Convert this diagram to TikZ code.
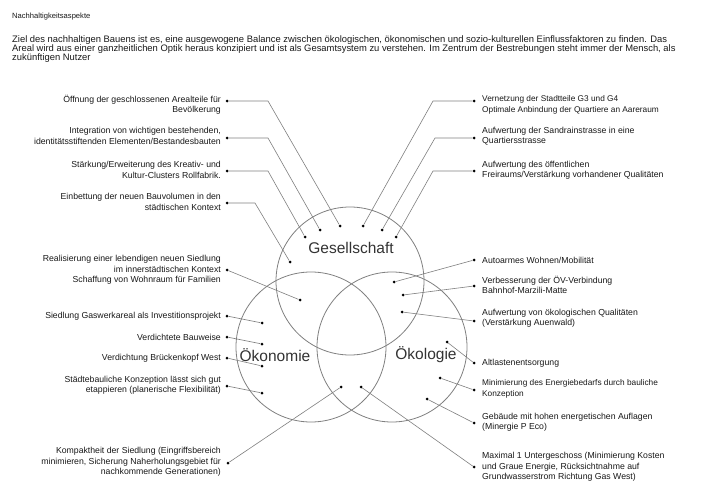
\documentclass[tikz,border=0pt]{standalone}
\usepackage{fontspec}
\setmainfont{Liberation Sans}
\begin{document}
\begin{tikzpicture}[x=1pt,y=-1pt,
  lbl/.style={inner sep=0pt,font=\fontsize{8.7}{10.5}\selectfont,text=black!90},
  lbll/.style={lbl,anchor=east,align=right},
  lblr/.style={lbl,anchor=west,align=left},
  dot/.style={circle,fill=black,inner sep=0pt,minimum size=3pt},
  conn/.style={draw=black!50,line width=0.6pt},
  ring/.style={draw=black!50,line width=0.8pt},
  big/.style={inner sep=0pt,font=\fontsize{15.5}{18}\selectfont,text=black!80}]
\path[use as bounding box] (0,0) rectangle (701,495);
\fill[white] (0,0) rectangle (701,495);

% heading and paragraph
\node[lbl,anchor=west,font=\fontsize{7.6}{8}\selectfont] (title) at (12,17) {Nachhaltigkeitsaspekte};
\node[lbl,anchor=west,align=left,font=\fontsize{9.4}{9.4}\selectfont] (para) at (12,49)
 {Ziel des nachhaltigen Bauens ist es, eine ausgewogene Balance zwischen ökologischen, ökonomischen und sozio-kulturellen Einflussfaktoren zu finden. Das\\
  Areal wird aus einer ganzheitlichen Optik heraus konzipiert und ist als Gesamtsystem zu verstehen. Im Zentrum der Bestrebungen steht immer der Mensch, als\\
  zukünftigen Nutzer};

% circles
\draw[ring] (350,281) circle[radius=74];
\draw[ring] (311,347) circle[radius=75];
\draw[ring] (392,347) circle[radius=75];
\node[big] (ges) at (351,248) {Gesellschaft};
\node[big] (oek) at (275,355) {Ökonomie};
\node[big] (okol) at (426,355) {Ökologie};

% target dots
\node[dot] (gA) at (305,237) {};
\node[dot] (gB) at (320,230) {};
\node[dot] (gC) at (340,226) {};
\node[dot] (gD) at (363,226) {};
\node[dot] (gE) at (382,230) {};
\node[dot] (gF) at (396,237) {};
\node[dot] (gG) at (290,262) {};
\node[dot] (e1) at (300,300) {};
\node[dot] (e2) at (262,323) {};
\node[dot] (e3) at (262,344) {};
\node[dot] (e4) at (262,366) {};
\node[dot] (e5) at (262,393) {};
\node[dot] (b1) at (341,387) {};
\node[dot] (b2) at (361,387) {};
\node[dot] (o1) at (394,282) {};
\node[dot] (o2) at (403,295) {};
\node[dot] (o3) at (402,312) {};
\node[dot] (o4) at (447,342) {};
\node[dot] (o5) at (440,378) {};
\node[dot] (o6) at (427,399) {};

% left labels
\node[lbll] (tl1) at (221,105) {Öffnung der geschlossenen Arealteile für\\Bevölkerung};
\node[dot] (l1) at (227,101) {};
\node[lbll] (tl2) at (221,136) {Integration von wichtigen bestehenden,\\identitätsstiftenden Elementen/Bestandesbauten};
\node[dot] (l2) at (227,138) {};
\node[lbll] (tl3) at (221,170) {Stärkung/Erweiterung des Kreativ- und\\Kultur-Clusters Rollfabrik.};
\node[dot] (l3) at (227,171) {};
\node[lbll] (tl4) at (221,202) {Einbettung der neuen Bauvolumen in den\\städtischen Kontext};
\node[dot] (l4) at (227,203) {};
\node[lbll] (tl5) at (221,270) {Realisierung einer lebendigen neuen Siedlung\\im innerstädtischen Kontext\\Schaffung von Wohnraum für Familien};
\node[dot] (l5) at (227,270) {};
\node[lbll] (tl6) at (221,316) {Siedlung Gaswerkareal als Investitionsprojekt};
\node[dot] (l6) at (227,316) {};
\node[lbll] (tl7) at (221,337) {Verdichtete Bauweise};
\node[dot] (l7) at (227,337) {};
\node[lbll] (tl8) at (221,358) {Verdichtung Brückenkopf West};
\node[dot] (l8) at (227,358) {};
\node[lbll] (tl9) at (221,385) {Städtebauliche Konzeption lässt sich gut\\etappieren (planerische Flexibilität)};
\node[dot] (l9) at (227,386) {};
\node[lbll] (tl10) at (221,462) {Kompaktheit der Siedlung (Eingriffsbereich\\minimieren, Sicherung Naherholungsgebiet für\\nachkommende Generationen)};
\node[dot] (l10) at (228,463) {};

% right labels
\node[lblr,font=\fontsize{8.3}{10.5}\selectfont] (tr1) at (482,105) {Vernetzung der Stadtteile G3 und G4\\Optimale Anbindung der Quartiere an Aareraum};
\node[dot] (r1) at (474,101) {};
\node[lblr] (tr2) at (482,136) {Aufwertung der Sandrainstrasse in eine\\Quartiersstrasse};
\node[dot] (r2) at (474,138) {};
\node[lblr] (tr3) at (482,170) {Aufwertung des öffentlichen\\Freiraums/Verstärkung vorhandener Qualitäten};
\node[dot] (r3) at (474,171) {};
\node[lblr] (tr4) at (482,260) {Autoarmes Wohnen/Mobilität};
\node[dot] (r4) at (474,260) {};
\node[lblr] (tr5) at (482,285) {Verbesserung der ÖV-Verbindung\\Bahnhof-Marzili-Matte};
\node[dot] (r5) at (474,286) {};
\node[lblr] (tr6) at (482,318) {Aufwertung von ökologischen Qualitäten\\(Verstärkung Auenwald)};
\node[dot] (r6) at (474,321) {};
\node[lblr] (tr7) at (482,363) {Altlastenentsorgung};
\node[dot] (r7) at (474,363) {};
\node[lblr,font=\fontsize{8.3}{10.5}\selectfont] (tr8) at (482,389) {Minimierung des Energiebedarfs durch bauliche\\Konzeption};
\node[dot] (r8) at (474,390) {};
\node[lblr] (tr9) at (482,422) {Gebäude mit hohen energetischen Auflagen\\(Minergie P Eco)};
\node[dot] (r9) at (474,423) {};
\node[lblr] (tr10) at (482,467) {Maximal 1 Untergeschoss (Minimierung Kosten\\und Graue Energie, Rücksichtnahme auf\\Grundwasserstrom Richtung Gas West)};
\node[dot] (r10) at (474,467) {};

% bend points
\coordinate (k1) at (268,101);
\coordinate (k2) at (268,138);
\coordinate (k3) at (268,171);
\coordinate (k4) at (255,203);
\coordinate (q1) at (433,101);
\coordinate (q2) at (435,138);
\coordinate (q3) at (433,171);

% connectors
\path[conn] (l1) -- (k1) -- (gC);
\path[conn] (l2) -- (k2) -- (gB);
\path[conn] (l3) -- (k3) -- (gA);
\path[conn] (l4) -- (k4) -- (gG);
\path[conn] (r1) -- (q1) -- (gD);
\path[conn] (r2) -- (q2) -- (gE);
\path[conn] (r3) -- (q3) -- (gF);
\path[conn] (l5) -- (e1);
\path[conn] (l6) -- (e2);
\path[conn] (l7) -- (e3);
\path[conn] (l8) -- (e4);
\path[conn] (l9) -- (e5);
\path[conn] (l10) -- (b1);
\path[conn] (r10) -- (b2);
\path[conn] (r4) -- (o1);
\path[conn] (r5) -- (o2);
\path[conn] (r6) -- (o3);
\path[conn] (r7) -- (o4);
\path[conn] (r8) -- (o5);
\path[conn] (r9) -- (o6);
\end{tikzpicture}
\end{document}
